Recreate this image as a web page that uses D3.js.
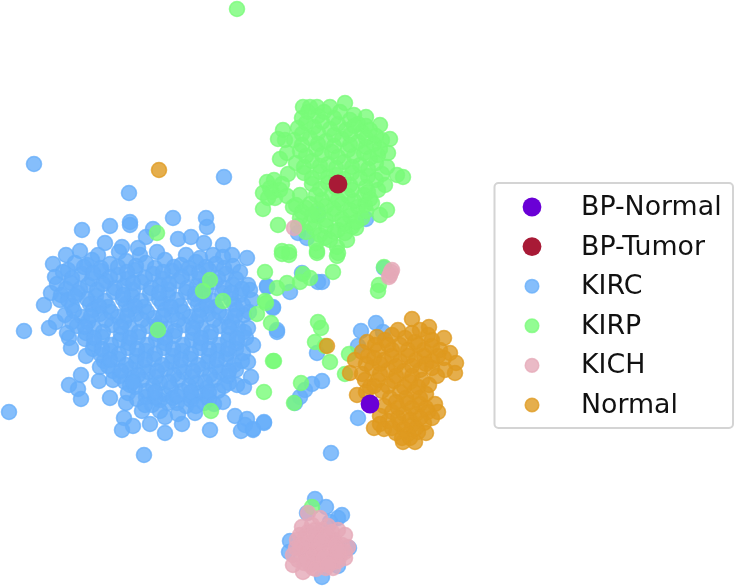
<!DOCTYPE html>
<html>
<head>
<meta charset="utf-8">
<script src="https://cdn.jsdelivr.net/npm/d3@7"></script>
<style>
  html, body { margin: 0; padding: 0; background: #fff; }
  svg { display: block; }
</style>
</head>
<body>
<svg class="scatter"></svg>
<script>
// values, two embedding axes, no visible ticks
var kirc = [[34,164],[129,193],[224,177],[82,230],[110,226],[130,222],[130,225],[173,218],[206,218],[207,227],
[153,229],[146,237],[178,239],[191,237],[204,243],[223,245],[247,258],[232,255],[105,243],[122,247],[80,251],
[66,255],[53,264],[98,255],[119,252],[138,248],[140,255],[157,252],[186,255],[200,258],[213,255],[223,257],
[55,277],[68,270],[87,265],[51,293],[44,305],[60,300],[248,285],[267,287],
[24,331],[9,412],[56,322],[49,328],[67,333],[69,338],[71,348],[86,356],[100,367],[81,375],[99,381],[113,380],
[69,385],[78,389],[81,399],[110,398],[126,403],[142,411],[124,418],[133,426],[122,430],[150,424],[165,433],
[144,455],[182,424],[165,417],[195,413],[210,430],[223,402],[235,416],[247,419],[241,431],[253,430],[264,423],
[245,425],[244,387],[237,385],[251,377],[248,362],[253,345],[248,328],[273,308],[277,332],[192,397],[207,397],
[160,400],[177,403],[146,397],[130,385],[133,378],
[318,214],[366,219],[298,233],[307,238],[302,273],[322,282],[318,282],[267,286],[290,292],[273,307],[277,330],
[384,268],[376,323],[361,331],[383,332],[358,346],[317,353],[322,381],[312,384],[305,390],[300,397],[295,403],
[358,418],[331,453],[264,422],[253,429],
[75,263],[92,260],[110,264],[126,261],[146,263],[165,260],[181,265],[196,262],[216,264],[233,266],
[63,272],[82,274],[101,271],[118,275],[135,270],[153,274],[172,271],[190,273],[209,270],[226,274],[240,272],
[57,284],[71,283],[88,285],[106,281],[124,286],[141,282],[160,285],[178,281],[197,286],[215,282],[233,285],
[61,295],[78,293],[96,296],[114,292],[132,296],[150,293],[168,295],[186,292],[204,296],[222,293],[240,295],
[72,306],[90,304],[108,307],[126,304],[144,307],[162,303],[180,306],[198,304],[216,307],[234,304],[252,300],
[65,315],[82,317],[100,314],[118,317],[136,314],[154,318],[172,315],[190,317],[208,314],[226,317],[244,315],
[77,326],[94,328],[112,325],[130,328],[148,326],[166,329],[184,325],[202,328],[220,326],[238,328],
[85,339],[102,337],[120,340],[138,337],[156,339],[174,336],[192,340],[210,337],[228,340],[246,338],
[93,349],[110,351],[128,348],[146,351],[164,348],[182,351],[200,348],[218,351],[236,349],
[104,361],[118,359],[136,362],[154,359],[172,362],[190,359],[208,362],[226,359],[242,361],
[113,371],[130,369],[148,372],[166,369],[184,372],[202,369],[220,372],[236,370],
[125,382],[142,380],[160,383],[178,380],[196,383],[214,380],[229,383],
[128,393],[146,391],[164,394],[182,391],[200,393],[218,391],
[152,405],[168,403],[186,406],[204,403],[178,414],[160,411],
[84,267],[101,268],[118,267],[136,266],[155,268],[174,267],[189,268],[206,267],[224,268],
[72,278],[92,279],[110,277],[128,279],[145,278],[163,279],[182,277],[200,279],[218,278],[236,279],[250,290],
[66,289],[80,289],[97,290],[115,288],[133,290],[151,288],[169,290],[187,288],[206,290],[224,288],[242,289],
[68,300],[87,299],[105,301],[123,299],[141,301],[159,299],[177,300],[195,299],[213,301],[231,299],[249,312],
[74,311],[93,310],[111,312],[129,310],[147,312],[165,310],[183,312],[201,310],[219,312],[237,310],
[72,322],[88,322],[106,320],[124,322],[142,320],[160,323],[178,320],[196,322],[214,320],[232,322],
[86,333],[103,332],[121,334],[139,332],[157,334],[175,331],[193,333],[211,332],[229,334],[244,332],
[94,344],[111,345],[129,343],[147,345],[165,343],[183,345],[201,343],[219,345],[237,343],
[101,355],[119,354],[137,356],[155,354],[173,356],[191,354],[209,356],[227,354],[243,353],
[108,366],[126,365],[144,367],[162,365],[180,367],[198,365],[216,367],[234,365],
[120,376],[138,375],[156,377],[174,375],[192,377],[210,375],[228,376],
[135,387],[153,386],[171,388],[189,386],[207,388],[224,386],
[137,399],[155,398],[173,398],[191,400],[209,399],
[315,499],[326,507],[307,513],[342,515],[338,518],[330,522],[290,541],[289,552],[349,548],[338,566],[322,577]];

var kircCore = [[93,273],[127,272],[163,272],[199,273],[103,284],[133,283],[169,284],[206,284],[75,296],[123,295],
[159,293],[195,294],[231,293],[99,306],[135,306],[171,307],[207,306],[243,305],[91,316],[127,316],[163,316],[199,316],
[235,316],[85,327],[121,327],[157,327],[193,328],[229,327],[94,338],[130,338],[165,338],[201,338],[237,338],[102,349],
[137,349],[173,349],[209,349],[228,349],[110,360],[145,360],[181,360],[217,360],[121,371],[157,371],[193,371],[229,371],
[133,382],[169,382],[205,382],[155,392],[191,392],[209,392],[145,405],[177,396],[196,406],[214,404]];

var kirp = [[237,9],[157,233],[210,280],[203,291],[223,301],[158,330],[211,411],[264,392],[273,361],[274,361],[257,314],
[271,323],[266,303],[265,272],[333,272],[289,255],[282,254],[317,253],[337,256],[303,274],[310,278],[300,282],
[287,283],[277,288],[265,301],[318,322],[321,328],[315,342],[325,346],[330,362],[349,354],[345,374],[301,383],[294,403],
[379,285],[378,291],[384,267],[312,507],
[345,103],[303,107],[310,107],[317,107],[330,107],[354,115],[366,117],[380,125],[390,139],[283,130],[278,139],
[285,140],[280,159],[287,153],[388,153],[387,167],[397,175],[403,177],[385,185],[288,174],[274,180],[267,182],
[263,193],[280,190],[275,198],[263,209],[293,207],[300,195],[387,210],[380,215],[278,225],[300,218],[282,251],
[289,252],[317,251],[337,247],[338,253],[347,240],[338,230],[352,227],[325,238],[310,223],[320,235],[365,205],
[302,118],[318,116],[334,118],[350,120],[366,126],[298,128],[314,127],[330,129],[346,130],[362,132],[376,136],
[294,140],[310,138],[326,141],[342,139],[358,142],[374,144],[300,151],[316,149],[332,152],[348,150],[364,153],
[378,155],[296,163],[312,161],[328,164],[344,162],[360,165],[376,163],[304,173],[320,172],[336,175],[352,173],
[368,176],[382,174],[312,184],[328,183],[350,185],[366,187],[378,190],[316,195],[332,194],[348,196],[364,195],
[310,204],[326,206],[342,204],[358,207],[372,203],[318,216],[334,214],[350,216],[362,218],[326,226],[344,224],
[314,228],[306,208],[356,228],
[308,112],[324,112],[340,112],[358,124],[306,123],[322,122],[338,124],[354,126],[370,130],[302,134],[318,133],
[334,135],[350,135],[366,138],[382,140],[302,145],[318,144],[334,146],[350,145],[366,147],[380,149],[306,156],
[322,155],[338,157],[354,156],[370,158],[304,167],[320,166],[336,168],[352,167],[368,169],[312,178],[328,177],
[344,179],[360,178],[376,180],[320,189],[336,188],[352,190],[368,192],[322,200],[338,200],[354,201],[370,199],
[318,210],[334,209],[350,210],[366,211],[326,220],[342,219],[356,222],[334,232],[330,240],[345,233],[312,215],
[270,188],[272,192],[282,184],[268,198],[287,196],[296,205],[302,212],[298,226],[306,232],[316,243]];

var kich = [[294,228],[391,272],[390,275],[392,270],[389,277],[293,565],[303,572],[313,568],[333,568],[345,558],[345,535],[320,518],
[302,527],[308,513],[297,540],[293,555],[312,525],[328,526],[338,530],[305,537],[318,535],[330,538],[342,545],
[300,548],[312,546],[324,546],[336,550],[306,558],[318,556],[330,558],[340,556],[310,565],[322,564],[334,562],
[326,568],[316,540],[326,552],[314,552],[298,560],[348,547],[322,530],[334,540],[308,532],[300,535],[345,552],
[318,562],[328,562],[306,550],[320,548],[332,532],[315,530],[326,535],[310,542],[322,541],[336,545],[302,544],
[312,558],[324,558],[338,561],[304,563],[316,569],[328,565],[338,552],[296,548]];

var normal = [[159,170],[327,346],[412,319],[429,327],[398,330],[420,330],[444,338],[450,353],[456,363],[455,373],
[445,370],[437,376],[429,385],[377,337],[367,342],[355,360],[350,373],[365,380],[357,395],[374,428],[384,429],
[403,442],[415,442],[426,433],[438,412],[435,404],[432,418],[370,387],
[385,340],[405,338],[415,342],[432,340],[378,350],[392,350],[408,350],[424,350],[440,350],[368,356],[384,360],
[400,361],[416,360],[432,361],[444,358],[372,368],[388,370],[404,371],[420,370],[432,368],[378,380],[394,381],
[410,382],[422,380],[382,391],[400,392],[414,392],[426,394],[396,402],[408,403],[420,404],[392,412],[404,414],
[416,414],[428,412],[388,421],[400,424],[412,425],[424,423],[396,433],[408,434],[418,432],[410,438],
[392,335],[412,333],[428,335],[375,345],[388,345],[400,345],[418,345],[432,346],[362,352],[374,358],[392,356],
[408,356],[424,356],[438,356],[366,364],[380,364],[396,366],[412,366],[426,364],[362,374],[380,374],[396,376],
[412,376],[374,386],[388,386],[404,387],[418,387],[366,392],[390,398],[406,398],[420,398],[384,406],[398,408],
[412,408],[426,408],[380,416],[398,418],[410,420],[420,418],[380,424],[392,428],[404,429],[416,428],[402,438]];

var bpNormal = [[370,404]];
var bpTumor = [[338,184]];

var legendNames = ["BP-Normal", "BP-Tumor", "KIRC", "KIRP", "KICH", "Normal"];
var legendColors = ["#6a00d6", "#a81a36", "#66aefa", "#78fb78", "#e5a9b8", "#df9a1f"];

var width = 736, height = 586;

var x = d3.scaleLinear().domain([0, 736]).range([0, width]);
var y = d3.scaleLinear().domain([0, 586]).range([0, height]);
var color = d3.scaleOrdinal().domain(legendNames).range(legendColors);

var svg = d3.select(".scatter")
    .attr("width", width)
    .attr("height", height);

var plot = svg.append("g").style("filter", "blur(0.6px)");

function drawSeries(name, data) {
    plot.append("g").selectAll("circle")
        .data(data)
        .enter().append("circle")
        .attr("cx", function(d) { return x(d[0]); })
        .attr("cy", function(d) { return y(d[1]); })
        .attr("r", 7.5)
        .attr("fill", color(name))
        .attr("fill-opacity", 0.8)
        .attr("stroke", color(name))
        .attr("stroke-opacity", 0.75)
        .attr("stroke-width", 1.6);
}

drawSeries("KIRC", kirc.concat(kircCore));
drawSeries("KIRP", kirp);
drawSeries("KICH", kich);
drawSeries("Normal", normal);

function drawBig(name, data) {
    plot.append("g").selectAll("circle")
        .data(data)
        .enter().append("circle")
        .attr("cx", function(d) { return x(d[0]); })
        .attr("cy", function(d) { return y(d[1]); })
        .attr("r", 9.4)
        .attr("fill", color(name));
}

drawBig("BP-Normal", bpNormal);
drawBig("BP-Tumor", bpTumor);

// legend
var legendY = d3.scalePoint().domain(legendNames).range([207, 405]);

var legend = svg.append("g").style("filter", "blur(0.4px)");

legend.append("rect")
    .attr("x", 494.5)
    .attr("y", 183)
    .attr("width", 238.5)
    .attr("height", 245)
    .attr("rx", 4)
    .attr("fill", "#fff")
    .attr("stroke", "#d4d4d4")
    .attr("stroke-width", 2);

var rows = legend.selectAll(".row")
    .data(legendNames)
    .enter().append("g")
    .attr("class", "row")
    .attr("transform", function(d) { return "translate(0," + legendY(d) + ")"; });

rows.append("circle")
    .attr("cx", 532)
    .attr("r", function(d) { return d.indexOf("BP") === 0 ? 9.4 : 6.8; })
    .attr("fill", function(d) { return color(d); })
    .attr("fill-opacity", function(d) { return d.indexOf("BP") === 0 ? 1 : 0.8; })
    .attr("stroke", function(d) { return d.indexOf("BP") === 0 ? "none" : color(d); })
    .attr("stroke-opacity", 0.75)
    .attr("stroke-width", 1.5);

rows.append("text")
    .attr("x", 581)
    .attr("dy", "0.3em")
    .attr("font-family", "DejaVu Sans")
    .attr("font-size", 26.8)
    .attr("fill", "#111")
    .text(function(d) { return d; });
</script>
</body>
</html>
